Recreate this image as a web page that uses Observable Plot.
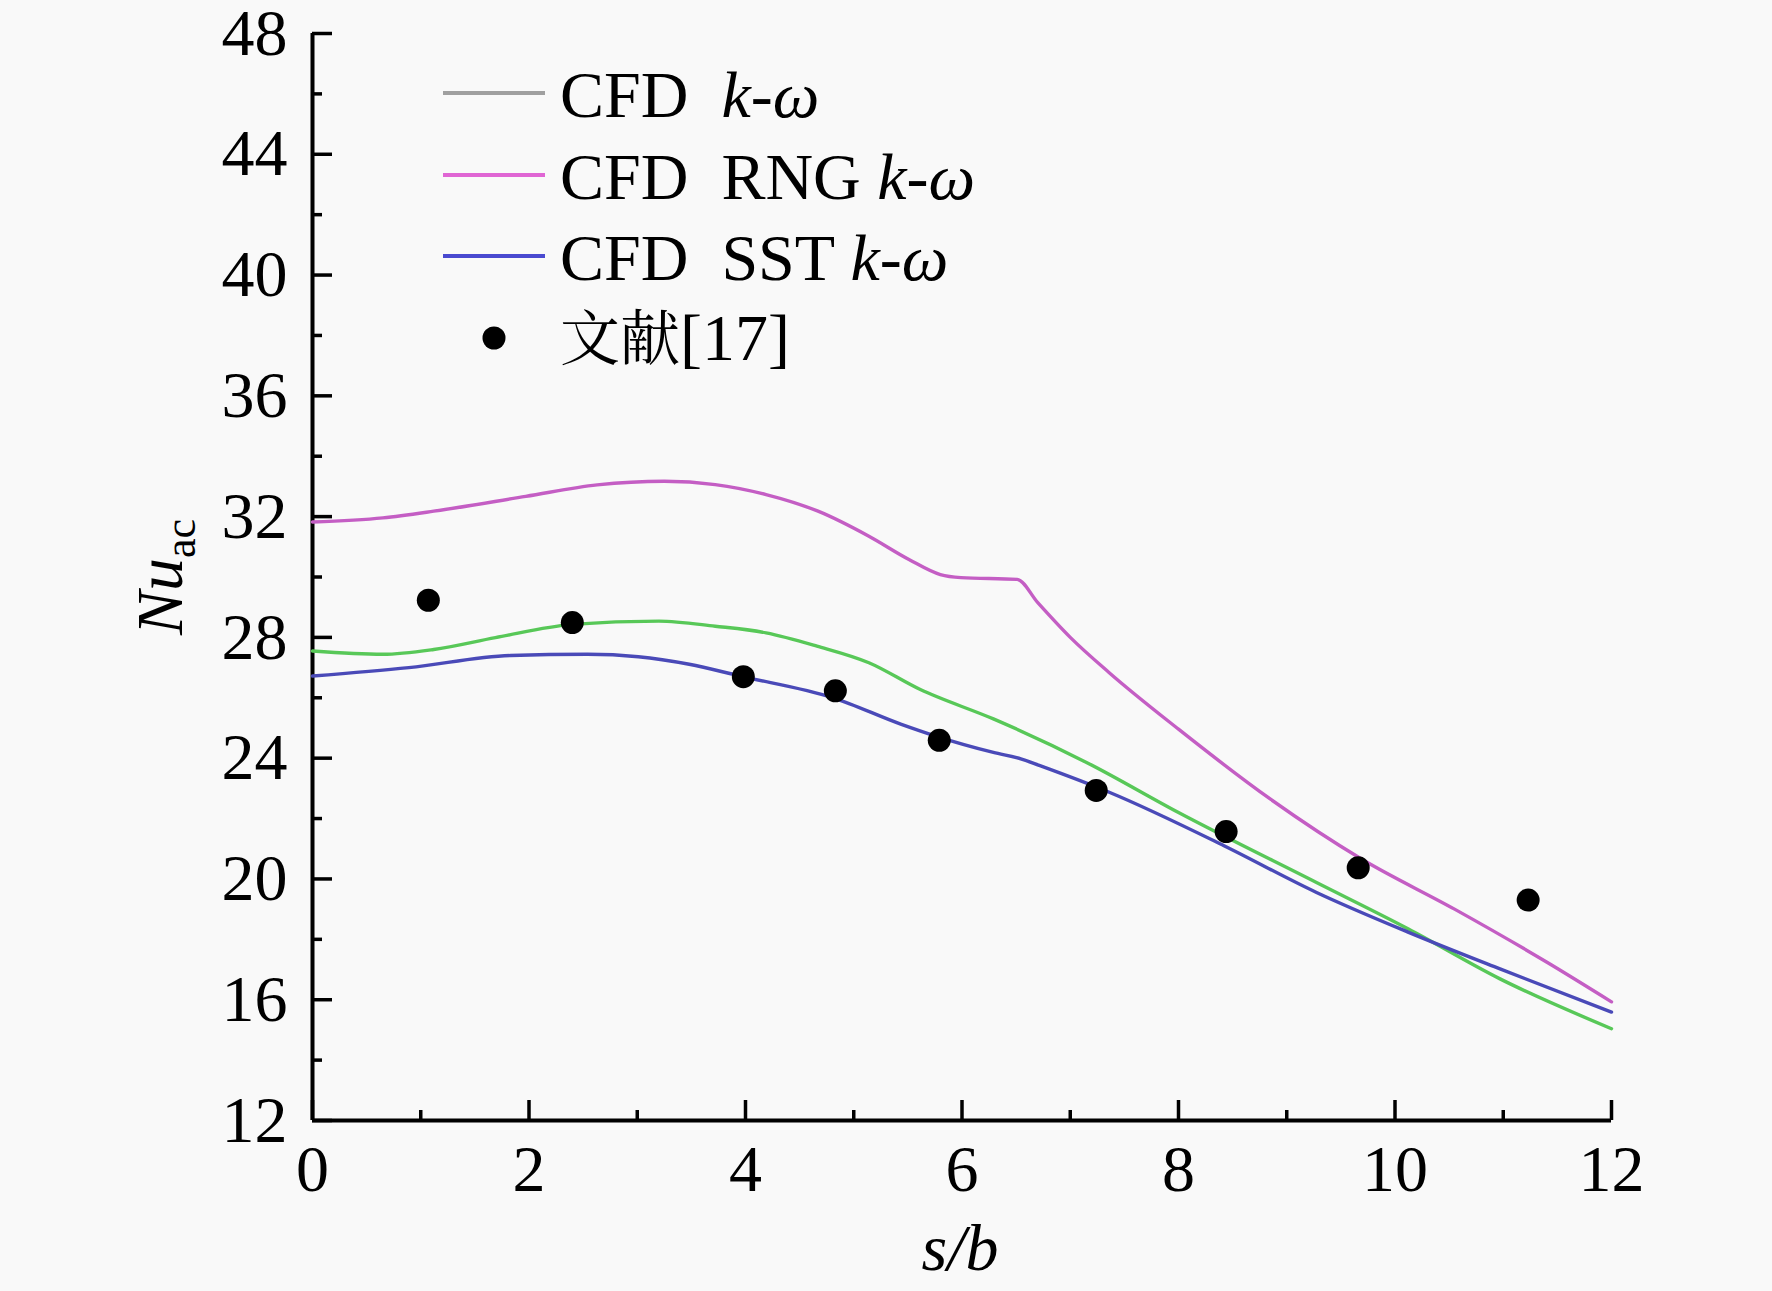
<!DOCTYPE html>
<html><head><meta charset="utf-8">
<script src="https://cdn.jsdelivr.net/npm/d3@7"></script>
<script src="https://cdn.jsdelivr.net/npm/@observablehq/plot@0.6"></script>
<style>
html,body{margin:0;padding:0;background:#f9f9f9;}
svg{display:block;}
</style>
</head><body><div id="chart"></div>
<script>
// ---- data ----
const xMajor = [0, 2, 4, 6, 8, 10, 12];
const xMinor = [1, 3, 5, 7, 9, 11];
const yMajor = [12, 16, 20, 24, 28, 32, 36, 40, 44, 48];
const yMinor = [14, 18, 22, 26, 30, 34, 38, 42, 46];

// upper curve (CFD RNG k-ω)
const sRNG = [0, 0.65, 1.12, 1.97, 2.63, 3.25, 3.72, 4.19, 4.67, 5.14, 5.51, 5.80, 5.99, 6.51, 6.70, 7.00, 7.36, 8.00, 8.85, 9.69, 10.55, 11.40, 12.00];
const vRNG = [31.82, 31.96, 32.18, 32.67, 33.05, 33.17, 33.06, 32.73, 32.18, 31.35, 30.58, 30.08, 29.98, 29.92, 29.15, 28.00, 26.83, 24.96, 22.64, 20.66, 19.00, 17.25, 15.93];

// middle curve (CFD k-ω)
const sKW = [0, 0.65, 1.12, 1.69, 2.40, 3.20, 3.72, 4.19, 4.66, 5.14, 5.61, 6.29, 7.15, 8.00, 9.27, 10.12, 10.97, 12.00];
const vKW = [27.55, 27.44, 27.60, 27.99, 28.43, 28.54, 28.37, 28.15, 27.71, 27.16, 26.28, 25.30, 23.86, 22.20, 19.89, 18.35, 16.69, 15.04];

// lower curve (CFD SST k-ω)
const sSST = [0, 0.89, 1.83, 2.54, 3.01, 3.48, 3.95, 4.81, 5.44, 5.75, 6.29, 6.55, 6.72, 7.36, 8.42, 9.27, 10.12, 10.97, 12.00];
const vSST = [26.72, 27.00, 27.40, 27.44, 27.36, 27.11, 26.72, 26.00, 25.12, 24.74, 24.19, 23.97, 23.75, 22.87, 21.10, 19.56, 18.24, 17.02, 15.59];

// literature points 文献[17]
const sRef = [1.07, 2.40, 3.98, 4.83, 5.79, 7.24, 8.44, 9.66, 11.23];
const vRef = [29.23, 28.49, 26.70, 26.23, 24.59, 22.93, 21.57, 20.37, 19.30];

const toRows = (s, v) => s.map((d, i) => ({s: d, v: v[i]}));

const serif = "'Liberation Serif','Times New Roman',serif";
const blank = () => "";

const plot = Plot.plot({
  width: 1772, height: 1291,
  marginLeft: 312, marginRight: 161, marginTop: 33, marginBottom: 171,
  x: {domain: [0, 12]},
  y: {domain: [12, 48]},
  style: {fontFamily: serif, fontSize: "66px", background: "#f9f9f9", color: "#000", overflow: "visible"},
  marks: [
    Plot.axisY(yMajor, {tickSize: 0, tickPadding: 25, label: null, fontSize: 66, fontFamily: serif}),
    Plot.axisY(yMajor, {tickSize: 20, dx: 20, tickFormat: blank, label: null, strokeWidth: 3.5}),
    Plot.axisY(yMinor, {tickSize: 10, dx: 10, tickFormat: blank, label: null, strokeWidth: 3.5}),
    Plot.axisX(xMajor, {tickSize: 0, tickPadding: 24, label: null, fontSize: 66, fontFamily: serif}),
    Plot.axisX(xMajor, {tickSize: 20, dy: -20, tickFormat: blank, label: null, strokeWidth: 3.5}),
    Plot.axisX(xMinor, {tickSize: 10, dy: -10, tickFormat: blank, label: null, strokeWidth: 3.5}),
    Plot.ruleX([0], {stroke: "#000", strokeWidth: 4}),
    Plot.ruleY([12], {stroke: "#000", strokeWidth: 4}),
    Plot.line(toRows(sRNG, vRNG), {x: "s", y: "v", stroke: "#c45ec4", strokeWidth: 3.4, curve: "monotone-x"}),
    Plot.line(toRows(sKW, vKW), {x: "s", y: "v", stroke: "#58c858", strokeWidth: 3.4, curve: "monotone-x"}),
    Plot.line(toRows(sSST, vSST), {x: "s", y: "v", stroke: "#4a4ab8", strokeWidth: 3.4, curve: "monotone-x"}),
    Plot.dot(toRows(sRef, vRef), {x: "s", y: "v", r: 11.5, fill: "#000", stroke: "none"})
  ]
});

document.getElementById("chart").appendChild(plot);

// ---- axis titles and legend ----
const svg = d3.select(plot);
const g = svg.append("g").attr("font-family", serif).attr("font-size", 66).attr("fill", "#000");

// y title: Nu_ac
const yt = g.append("text").attr("transform", "translate(182,577) rotate(-90)").attr("text-anchor", "middle");
yt.append("tspan").attr("font-style", "italic").text("Nu");
yt.append("tspan").attr("font-size", 44).attr("dy", 13).text("ac");

// x title: s/b
g.append("text").attr("x", 960).attr("y", 1270).attr("text-anchor", "middle").attr("font-style", "italic").text("s/b");

// legend
const legendItems = [
  {name: "CFD", model: "", color: "#a0a0a0", y: 95},
  {name: "CFD", model: "RNG ", color: "#e066d4", y: 177},
  {name: "CFD", model: "SST ", color: "#4a4ad0", y: 258}
];
const lg = g.append("g").attr("text-anchor", "start");
legendItems.forEach(it => {
  lg.append("line").attr("x1", 443).attr("x2", 545).attr("y1", it.y - 2).attr("y2", it.y - 2)
    .attr("stroke", it.color).attr("stroke-width", 4);
  const t = lg.append("text").attr("x", 560).attr("y", it.y + 22).attr("text-anchor", "start").style("white-space", "pre");
  t.append("tspan").text(it.name + "  " + it.model);
  t.append("tspan").attr("font-style", "italic").text("k-ω");
});
lg.append("circle").attr("cx", 494).attr("cy", 338).attr("r", 11.5).attr("fill", "#000");
const t4 = lg.append("text").attr("x", 560).attr("y", 360).attr("text-anchor", "start");
t4.append("tspan").attr("font-family", "'Noto Serif CJK SC','Noto Sans CJK SC',sans-serif").attr("font-size", 60).text("文献");
t4.append("tspan").text("[17]");
</script></body></html>
